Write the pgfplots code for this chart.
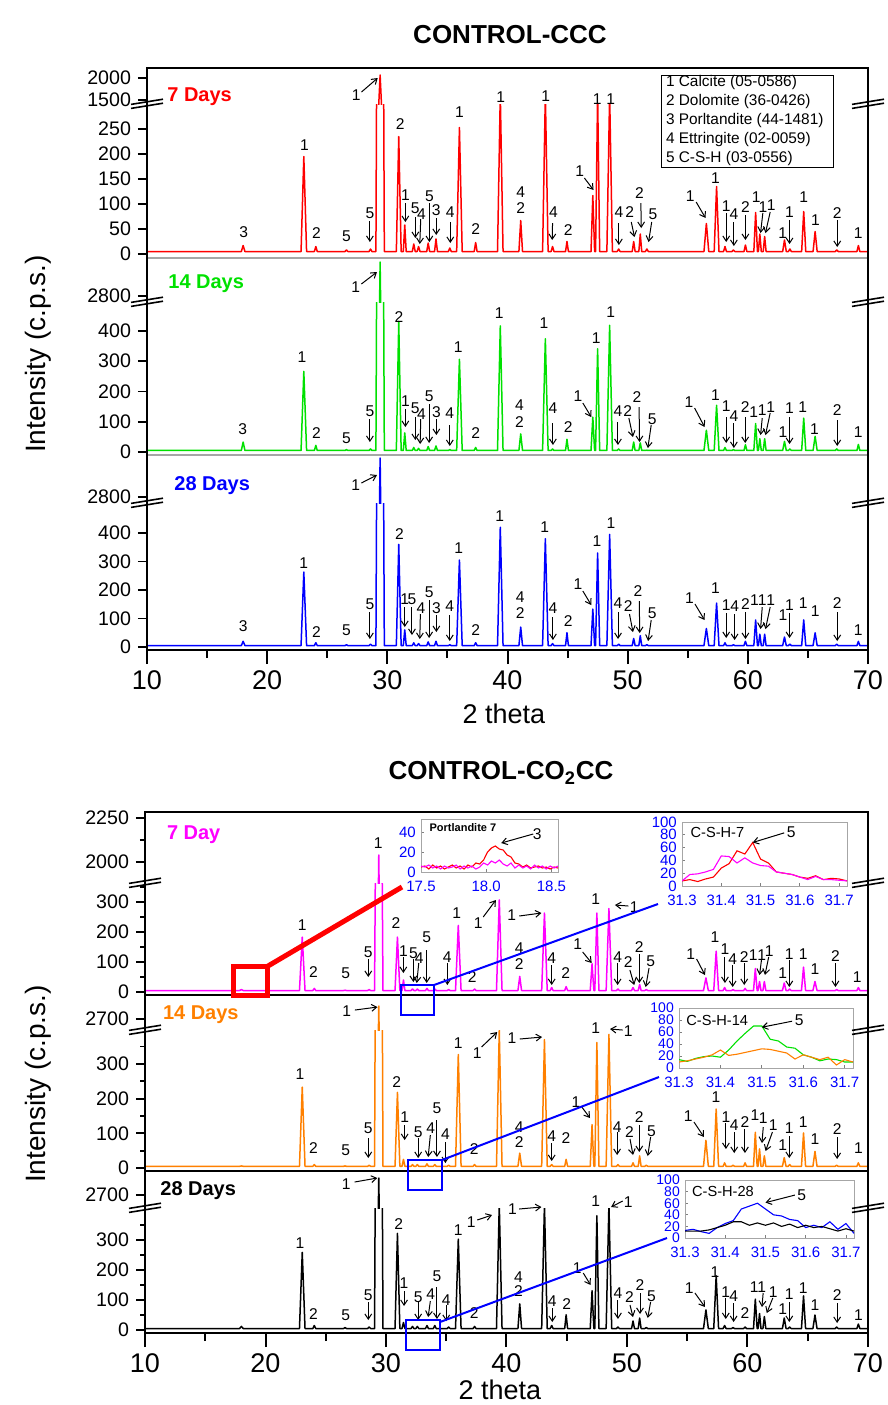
\documentclass[border=0pt]{standalone}
\usepackage{pgfplots}
\pgfplotsset{compat=1.18}
\usepackage{pgfplotstable}
\usepackage{fontspec}
\setmainfont{Liberation Sans}
\usetikzlibrary{arrows.meta}

\definecolor{cgreen}{RGB}{0,225,0}
\definecolor{corange}{RGB}{255,128,0}
\definecolor{cmag}{RGB}{255,0,255}
\definecolor{cblue}{RGB}{0,0,255}
\definecolor{cred}{RGB}{255,0,0}

% XRD patterns: 2theta, top panel 7/14/28 d, bottom panel 7/14/28 d
\pgfplotstableread{
x t7 t14 t28 b7 b14 b28
10 5 5 5 5 5 5
17.85 5 5 5 5 5 5
18.0 17 33 20 8 6 12
18.15 5 5 5 5 5 5
22.82 5 5 5 5 5 5
23.05 195 266 263 183 233 259
23.28 5 5 5 5 5 5
23.93 5 5 5 5 5 5
24.05 15 22 15 12 10 15
24.17 5 5 5 5 5 5
26.48 5 5 5 5 5 5
26.6 8 8 8 6 6 8
26.72 5 5 5 5 5 5
28.48 5 5 5 5 5 5
28.6 10 10 10 8 8 10
28.72 5 5 5 5 5 5
29.05 5 5 5 5 5 5
29.4 2070 3140 3190 2040 2830 2870
29.75 5 5 5 5 5 5
30.75 5 5 5 5 5 5
30.95 235 431 360 183 218 322
31.15 5 5 5 5 5 5
31.33 5 5 5 5 5 5
31.45 58 63 60 40 25 25
31.57 5 5 5 5 5 5
32.08 5 5 5 5 5 5
32.2 20 15 15 10 10 12
32.32 5 5 5 5 5 5
32.48 5 5 5 5 5 5
32.6 15 12 12 10 10 12
32.72 5 5 5 5 5 5
33.28 5 5 5 5 5 5
33.4 22 18 18 12 12 15
33.52 5 5 5 5 5 5
33.93 5 5 5 5 5 5
34.05 30 20 20 10 10 15
34.17 5 5 5 5 5 5
35.08 5 5 5 5 5 5
35.2 12 8 8 8 8 10
35.32 5 5 5 5 5 5
35.77 5 5 5 5 5 5
36.0 253 306 305 222 327 303
36.23 5 5 5 5 5 5
37.23 5 5 5 5 5 5
37.35 23 15 15 10 10 12
37.47 5 5 5 5 5 5
39.17 5 5 5 5 5 5
39.4 320 416 420 307 397 420
39.63 5 5 5 5 5 5
40.95 5 5 5 5 5 5
41.1 67 60 70 52 43 87
41.25 5 5 5 5 5 5
42.92 5 5 5 5 5 5
43.15 320 374 380 263 370 420
43.38 5 5 5 5 5 5
43.63 5 5 5 5 5 5
43.75 15 10 12 15 10 15
43.87 5 5 5 5 5 5
44.83 5 5 5 5 5 5
44.95 25 42 50 18 25 51
45.07 5 5 5 5 5 5
46.95 5 5 5 5 5 5
47.1 117 115 133 94 125 131
47.25 5 5 5 5 5 5
47.33 5 5 5 5 5 5
47.5 320 341 330 263 362 381
47.67 5 5 5 5 5 5
48.27 5 5 5 5 5 5
48.5 320 418 395 278 385 420
48.73 5 5 5 5 5 5
49.13 5 5 5 5 5 5
49.25 10 10 10 10 10 10
49.37 5 5 5 5 5 5
50.38 5 5 5 5 5 5
50.5 25 33 30 15 15 30
50.62 5 5 5 5 5 5
50.93 5 5 5 5 5 5
51.05 40 30 40 25 35 40
51.17 5 5 5 5 5 5
51.48 5 5 5 5 5 5
51.6 10 6 8 8 8 8
51.72 5 5 5 5 5 5
56.35 5 5 5 5 5 5
56.55 61 72 65 47 80 67
56.75 5 5 5 5 5 5
57.2 5 5 5 5 5 5
57.4 135 154 154 136 170 181
57.6 5 5 5 5 5 5
57.98 5 5 5 5 5 5
58.1 15 15 15 15 15 15
58.22 5 5 5 5 5 5
58.68 5 5 5 5 5 5
58.8 8 8 8 8 8 8
58.92 5 5 5 5 5 5
59.68 5 5 5 5 5 5
59.8 18 24 20 12 15 10
59.92 5 5 5 5 5 5
60.5 5 5 5 5 5 5
60.65 83 94 95 78 103 103
60.8 5 5 5 5 5 5
60.88 5 5 5 5 5 5
61.0 40 44 45 35 55 55
61.12 5 5 5 5 5 5
61.28 5 5 5 5 5 5
61.4 35 44 45 35 35 45
61.52 5 5 5 5 5 5
62.9 5 5 5 5 5 5
63.05 28 35 35 30 30 40
63.2 5 5 5 5 5 5
63.38 5 5 5 5 5 5
63.5 10 10 10 10 10 10
63.62 5 5 5 5 5 5
64.48 5 5 5 5 5 5
64.65 85 112 95 83 101 114
64.82 5 5 5 5 5 5
65.43 5 5 5 5 5 5
65.6 45 52 50 35 48 50
65.77 5 5 5 5 5 5
67.28 5 5 5 5 5 5
67.4 8 10 10 8 8 10
67.52 5 5 5 5 5 5
69.08 5 5 5 5 5 5
69.2 17 25 20 15 15 20
69.32 5 5 5 5 5 5
70 5 5 5 5 5 5
}\xrd

\pgfplotstableread{
x r m
17.50 5 6
17.53 6 5
17.56 3 7
17.59 7 4
17.62 4 6
17.65 6 3
17.68 3 6
17.71 5 4
17.74 7 5
17.77 4 7
17.80 6 3
17.83 3 6
17.86 7 4
17.89 5 6
17.92 9 3
17.95 8 5
17.98 12 9
18.01 20 7
18.04 24 11
18.07 26 9
18.10 23 12
18.13 22 8
18.16 17 6
18.19 15 9
18.22 9 4
18.25 8 7
18.28 5 4
18.31 7 6
18.34 4 3
18.37 5 7
18.40 6 4
18.43 4 6
18.46 5 3
18.49 3 6
18.52 5 4
18.55 4 6
}\portl

\pgfplotstableread{
x r7 m7 g14 o14 b28 k28
31.30 8 8 14 10 13 12
31.32 10 18 11 12 15 12
31.34 7 19 16 15 11 12
31.36 11 22 19 18 8 14
31.38 14 26 20 22 18 18
31.40 28 47 18 30 25 22
31.42 35 46 30 21 30 28
31.44 55 36 45 23 50 28
31.46 50 44 58 26 55 22
31.48 68 36 70 29 60 26
31.50 42 32 70 32 50 22
31.52 36 31 48 31 40 26
31.54 22 22 45 28 38 20
31.56 20 20 35 25 32 24
31.58 18 18 33 15 30 18
31.60 14 14 22 22 18 22
31.62 12 10 18 18 22 18
31.64 16 15 12 14 18 20
31.66 10 10 15 18 28 16
31.68 12 10 14 5 15 12
31.70 11 9 10 14 25 16
31.72 8 8 10 10 8 12
}\csh

\tikzset{
  lab/.style={font=\fontsize{7.8}{9}\selectfont, inner sep=0pt},
  arr/.style={-{Straight Barb[length=2.6pt,width=3.4pt]}, line width=0.5pt},
  brk/.style={line width=0.8pt, black},
}
\newcommand{\PT}[3]{\node[lab] at ([yshift=#2*0.5pt]axis cs:#1,0) {#3};}
\newcommand{\PV}[5]{\node[lab] at ([yshift=#2*0.5pt]axis cs:#1,0) {#5};
  \draw[arr] ([yshift=#3*0.5pt]axis cs:#1,0) -- ([yshift=#4*0.5pt]axis cs:#1,0);}
\newcommand{\PD}[7]{\node[lab] at ([yshift=#2*0.5pt]axis cs:#1,0) {#7};
  \draw[arr] ([yshift=#4*0.5pt]axis cs:#3,0) -- ([yshift=#6*0.5pt]axis cs:#5,0);}
\newcommand{\brk}[2]{\draw[brk] (#1-8pt,#2-2.2pt) -- (#1+8pt,#2+0.4pt);
  \draw[brk] (#1-8pt,#2-0.2pt) -- (#1+8pt,#2+2.4pt);}

\pgfplotsset{
  mainax/.style={scale only axis, xmin=10, xmax=70, clip mode=individual,
    axis line style={draw=none}, tick align=outside, ytick pos=left, xtick=\empty,
    major tick length=4.5pt, minor tick length=2.5pt,
    tick style={black, line width=0.9pt},
    yticklabel style={font=\fontsize{9.8}{10}\selectfont},
    /pgf/number format/assume math mode=true,
    /pgf/number format/set thousands separator={},
    every axis plot/.append style={line width=0.75pt, line join=round},
  },
  ptop/.style={mainax, width=360.5pt, at={(73.5pt,#1)}, anchor=south west},
  pbot/.style={mainax, width=361.5pt, at={(72.5pt,#1)}, anchor=south west},
  xax/.style={scale only axis, height=10pt, anchor=south west,
    xmin=10, xmax=70, ymin=0, ymax=1, axis line style={draw=none}, ytick=\empty,
    xtick={10,20,...,70}, minor xtick={15,25,...,65}, xtick pos=bottom, tick align=outside,
    major tick length=7pt, minor tick length=4pt, tick style={black, line width=1pt},
    xticklabel style={font=\fontsize{13.5}{14}\selectfont},
    /pgf/number format/assume math mode=true},
  inset/.style={scale only axis, anchor=south west, clip mode=individual,
    axis line style={draw=gray!70, line width=0.5pt},
    axis background/.style={fill=white},
    tick align=inside, xtick pos=bottom, ytick pos=left,
    major tick length=1.5pt, tick style={gray, line width=0.4pt},
    tick label style={text=blue, font=\fontsize{7.5}{8}\selectfont},
    xticklabel style={yshift=-1pt, /pgf/number format/fixed, /pgf/number format/fixed zerofill, /pgf/number format/precision=1},
    yticklabel style={inner sep=0.4pt, xshift=-2pt},
    /pgf/number format/assume math mode=true,
    every axis plot/.append style={line width=0.55pt},
  },
}

\begin{document}
\begin{tikzpicture}
\useasboundingbox (0,0) rectangle (444pt,-702.5pt);

%================ TOP FIGURE =================
% ---- 7 days
\begin{axis}[ptop=-129pt, height=77pt, ymin=-8, ymax=300, ytick={0,50,...,250}]
\addplot[cred] table[x=x,y=t7]{\xrd};
\PT{18.05}{22}{3}
\PT{23.1}{109}{1}
\PT{24.1}{21}{2}
\PT{26.6}{18}{5}
\PV{28.55}{41}{33}{12}{5}
\PD{27.4}{159}{27.85}{162}{29.2}{176}{1}
\PT{31.08}{130}{2}
\PV{31.5}{59}{51}{32}{1}
\PV{32.33}{46}{37}{16}{5}
\PD{32.85}{40}{32.78}{35}{32.7}{10}{4}
\PV{33.5}{58}{51}{12}{5}
\PV{34.07}{44}{36}{19}{3}
\PV{35.24}{42}{32}{11}{4}
\PT{36.0}{142}{1}
\PT{37.35}{25}{2}
\PT{39.43}{157}{1}
\PT{41.09}{62}{4}
\PT{41.09}{46}{2}
\PT{43.17}{158}{1}
\PD{43.83}{42}{43.75}{31}{43.72}{14}{4}
\PT{45.05}{24}{2}
\PD{46.0}{83}{46.4}{76}{47.16}{64}{1}
\PT{47.47}{155}{1}
\PT{48.58}{155}{1}
\PV{49.27}{42}{31}{9}{4}
\PD{50.16}{42}{50.3}{32}{50.57}{17}{2}
\PD{50.99}{61}{51.1}{51}{51.13}{26}{2}
\PD{52.1}{40}{52.0}{32}{51.74}{12}{5}
\PD{55.2}{58}{55.7}{52}{56.48}{36}{1}
\PT{57.3}{76}{1}
\PV{58.2}{48}{41}{12}{1}
\PV{58.84}{40}{32}{8}{4}
\PV{59.8}{47}{39}{14}{2}
\PT{60.7}{57}{1}
\PD{61.25}{47}{61.25}{41}{61.06}{21}{1}
\PD{61.95}{49}{61.86}{42}{61.47}{21}{1}
\PT{62.9}{21}{1}
\PV{63.47}{42}{34}{10}{1}
\PT{64.66}{57}{1}
\PT{65.63}{34}{1}
\PV{67.44}{41}{34}{7}{2}
\PT{69.19}{21}{1}
\end{axis}
\begin{axis}[ptop=-52pt, height=18pt, ymin=1409, ymax=2227, ytick={1500,2000}]
\addplot[cred] table[x=x,y=t7]{\xrd};
\end{axis}

% ---- 14 days
\begin{axis}[ptop=-227.5pt, height=76.5pt, ymin=-9.9, ymax=495, ytick={0,100,...,400}]
\addplot[cgreen] table[x=x,y=t14]{\xrd};
\PT{17.96}{23}{3}
\PT{22.9}{95}{1}
\PT{24.1}{19}{2}
\PT{26.6}{14}{5}
\PV{28.55}{41}{33}{10}{5}
\PD{27.37}{165}{27.84}{168}{29.14}{180}{1}
\PT{30.97}{135}{2}
\PV{31.5}{51}{43}{25}{1}
\PV{32.33}{44}{35}{12}{5}
\PD{32.85}{38}{32.78}{33}{32.73}{8}{4}
\PV{33.48}{56}{48}{9}{5}
\PV{34.08}{40}{33}{17}{3}
\PV{35.2}{39}{27}{6}{4}
\PT{35.9}{105}{1}
\PT{37.35}{19}{2}
\PT{39.3}{139}{1}
\PT{41.0}{47}{4}
\PT{41.0}{30}{2}
\PT{43.03}{129}{1}
\PV{43.78}{44}{29}{7}{4}
\PT{45.06}{25}{2}
\PD{45.86}{56}{46.27}{49}{46.97}{35}{1}
\PT{47.39}{114}{1}
\PT{48.58}{140}{1}
\PV{49.19}{41}{30}{7}{4}
\PD{50.0}{41}{50.1}{34}{50.44}{15}{2}
\PD{50.77}{55}{50.95}{45}{50.99}{10}{2}
\PD{52.05}{33}{51.96}{27}{51.68}{4}{5}
\PD{55.1}{50}{55.57}{44}{56.4}{25}{1}
\PT{57.3}{57}{1}
\PV{58.2}{46}{35}{9}{1}
\PV{58.84}{36}{29}{4}{4}
\PV{59.78}{45}{35}{9}{2}
\PT{60.48}{40}{1}
\PD{61.2}{42}{61.2}{34}{61.06}{17}{1}
\PD{61.9}{45}{61.86}{39}{61.47}{17}{1}
\PT{62.93}{20}{1}
\PV{63.47}{44}{35}{8}{1}
\PT{64.57}{45}{1}
\PT{65.55}{23}{1}
\PV{67.44}{42}{32}{6}{2}
\PT{69.19}{20}{1}
\end{axis}
\begin{axis}[ptop=-151pt, height=22pt, ymin=2740, ymax=3180, ytick={2800}]
\addplot[cgreen] table[x=x,y=t14]{\xrd};
\end{axis}

% ---- 28 days
\begin{axis}[ptop=-325pt, height=73.5pt, ymin=-10.5, ymax=505, ytick={0,100,...,400}]
\addplot[cblue] table[x=x,y=t28]{\xrd};
\PT{18.0}{21}{3}
\PT{23.05}{84}{1}
\PT{24.1}{15}{2}
\PT{26.6}{17}{5}
\PV{28.55}{43}{35}{8}{5}
\PD{27.37}{162}{27.84}{164}{29.14}{172}{1}
\PT{31.0}{113}{2}
\PV{31.45}{48}{40}{20}{1}
\PV{32.05}{48}{40}{12}{5}
\PD{32.8}{39}{32.75}{33}{32.7}{8}{4}
\PV{33.48}{55}{47}{9}{5}
\PV{34.08}{39}{32}{15}{3}
\PV{35.2}{41}{32}{6}{4}
\PT{35.95}{99}{1}
\PT{37.35}{17}{2}
\PT{39.35}{131}{1}
\PT{41.05}{50}{4}
\PT{41.05}{34}{2}
\PT{43.1}{120}{1}
\PV{43.78}{39}{30}{7}{4}
\PT{45.06}{26}{2}
\PD{45.86}{63}{46.27}{56}{46.97}{42}{1}
\PT{47.45}{106}{1}
\PT{48.6}{124}{1}
\PV{49.2}{44}{35}{8}{4}
\PD{50.05}{41}{50.15}{33}{50.44}{15}{2}
\PD{50.85}{56}{50.97}{46}{51.0}{14}{2}
\PD{52.05}{34}{51.96}{27}{51.7}{6}{5}
\PD{55.15}{49}{55.6}{43}{56.4}{27}{1}
\PT{57.3}{59}{1}
\PV{58.2}{42}{34}{9}{1}
\PV{58.9}{41}{33}{7}{4}
\PV{59.8}{43}{35}{8}{2}
\PT{60.55}{47}{1}
\PD{61.2}{47}{61.2}{40}{61.06}{18}{1}
\PD{61.9}{47}{61.86}{40}{61.47}{18}{1}
\PT{62.93}{32}{1}
\PV{63.47}{42}{34}{9}{1}
\PT{64.6}{44}{1}
\PT{65.6}{36}{1}
\PV{67.44}{44}{35}{6}{2}
\PT{69.19}{17}{1}
\end{axis}
\begin{axis}[ptop=-251.5pt, height=24pt, ymin=2740, ymax=3220, ytick={2800}]
\addplot[cblue] table[x=x,y=t28]{\xrd};
\end{axis}
\begin{axis}[xax, width=360.5pt, at={(73.5pt,-325pt)}]
\end{axis}

%================ BOTTOM FIGURE =================
% ---- 7 day
\begin{axis}[pbot=-497.5pt, height=56pt, ymin=-10, ymax=363, ytick={0,100,200,300}, minor ytick={50,150,250,350}]
\addplot[cmag] table[x=x,y=b7]{\xrd};
\PT{23.05}{67}{1}
\PT{23.97}{20}{2}
\PT{26.65}{19}{5}
\PV{28.53}{40}{33}{15}{5}
\PT{29.36}{149}{1}
\PT{30.83}{69}{2}
\PV{31.44}{41}{35}{19}{1}
\PV{32.27}{39}{33}{10}{5}
\PD{32.76}{34}{32.72}{29}{32.55}{9}{4}
\PV{33.38}{55}{42}{9}{5}
\PV{35.09}{35}{29}{7}{4}
\PT{35.87}{79}{1}
\PT{37.16}{15}{2}
\PD{37.66}{69}{38.07}{75}{39.12}{92}{1}
\PD{40.43}{77}{41.06}{76}{42.9}{79}{1}
\PT{41.06}{44}{4}
\PT{41.06}{28}{2}
\PV{43.75}{34}{27}{7}{4}
\PT{44.91}{19}{2}
\PD{45.9}{48}{46.32}{40}{47.07}{29}{1}
\PT{47.4}{93}{1}
\PD{50.6}{85}{50.11}{86}{49.0}{87}{1}
\PV{49.22}{35}{29}{7}{4}
\PD{50.1}{30}{50.24}{22}{50.6}{7}{2}
\PV{51.02}{45}{38}{9}{2}
\PD{51.97}{31}{51.83}{24}{51.55}{5}{5}
\PD{55.29}{38}{55.78}{33}{56.47}{17}{1}
\PT{57.3}{55}{1}
\PV{58.13}{43}{35}{9}{1}
\PV{58.77}{33}{27}{5}{4}
\PV{59.73}{35}{29}{7}{2}
\PT{60.48}{37}{1}
\PD{61.18}{37}{61.16}{32}{61.0}{17}{1}
\PD{61.81}{41}{61.76}{35}{61.45}{17}{1}
\PT{62.92}{19}{1}
\PV{63.47}{38}{32}{5}{1}
\PT{64.63}{38}{1}
\PT{65.6}{23}{1}
\PV{67.3}{36}{29}{5}{2}
\PT{69.11}{15}{1}
\end{axis}
\begin{axis}[pbot=-441.5pt, height=35.5pt, ymin=1881, ymax=2284, ytick={2000,2250}, minor ytick={2125}]
\addplot[cmag] table[x=x,y=b7]{\xrd};
\end{axis}

% ---- 14 days
\begin{axis}[pbot=-585.5pt, height=70.5pt, ymin=-8.6, ymax=397.7, ytick={0,100,200,300}, minor ytick={50,150,250,350}]
\addplot[corange] table[x=x,y=b14]{\xrd};
\PD{26.73}{157}{27.42}{158}{29.3}{161}{1}
\PT{22.86}{94}{1}
\PT{23.97}{20}{2}
\PT{26.65}{18}{5}
\PV{28.53}{40}{30}{10}{5}
\PT{30.89}{86}{2}
\PV{31.55}{51}{43}{28}{1}
\PV{32.67}{36}{30}{10}{5}
\PD{33.72}{40}{33.68}{33}{33.5}{11}{4}
\PV{34.23}{60}{48}{11}{5}
\PV{34.93}{34}{26}{5}{4}
\PT{36.0}{125}{1}
\PT{37.32}{19}{2}
\PD{37.57}{115}{37.93}{121}{39.23}{136}{1}
\PD{40.46}{130}{41.1}{129}{42.95}{131}{1}
\PT{41.06}{41}{4}
\PT{41.06}{26}{2}
\PV{43.75}{32}{25}{7}{4}
\PT{44.94}{30}{2}
\PD{45.77}{66}{46.25}{61}{46.93}{50}{1}
\PT{47.41}{140}{1}
\PD{50.11}{137}{49.64}{138}{48.59}{139}{1}
\PV{49.18}{41}{36}{13}{4}
\PD{50.2}{36}{50.25}{29}{50.5}{13}{2}
\PV{51.02}{51}{43}{16}{2}
\PD{52.03}{37}{51.96}{31}{51.72}{12}{5}
\PD{55.09}{52}{55.56}{46}{56.39}{31}{1}
\PT{57.38}{71}{1}
\PV{58.21}{51}{45}{19}{1}
\PV{58.9}{43}{36}{15}{4}
\PV{59.79}{46}{39}{15}{2}
\PT{60.62}{53}{1}
\PD{61.31}{50}{61.31}{41}{61.2}{25}{1}
\PD{62.14}{43}{62.07}{36}{61.5}{17}{1}
\PT{62.92}{23}{1}
\PV{63.47}{40}{32}{10}{1}
\PT{64.63}{46}{1}
\PT{65.6}{29}{1}
\PV{67.44}{39}{31}{9}{2}
\PT{69.2}{20}{1}
\end{axis}
\begin{axis}[pbot=-515pt, height=17.5pt, ymin=2590, ymax=2940, ytick={2700}]
\addplot[corange] table[x=x,y=b14]{\xrd};
\end{axis}

% ---- 28 days
\begin{axis}[pbot=-666.5pt, height=62.5pt, ymin=-10, ymax=406.7, ytick={0,100,200,300}, minor ytick={50,150,250,350}]
\addplot[black] table[x=x,y=b28]{\xrd};
\PD{26.7}{146}{27.4}{148}{29.28}{152}{1}
\PT{22.86}{87}{1}
\PT{23.97}{16}{2}
\PT{26.65}{15}{5}
\PV{28.53}{35}{28}{10}{5}
\PT{31.05}{106}{2}
\PV{31.5}{47}{39}{24}{1}
\PV{32.67}{33}{28}{10}{5}
\PD{33.72}{36}{33.68}{29}{33.5}{13}{4}
\PV{34.23}{54}{43}{11}{5}
\PV{35.0}{30}{25}{9}{4}
\PT{36.0}{100}{1}
\PT{37.32}{17}{2}
\PD{37.07}{108}{37.57}{110}{38.8}{115}{1}
\PD{40.5}{121}{41.05}{121}{42.9}{123}{1}
\PT{41.0}{53}{4}
\PT{41.0}{39}{2}
\PV{43.8}{29}{22}{8}{4}
\PT{44.99}{26}{2}
\PD{45.87}{62}{46.37}{57}{46.98}{45}{1}
\PT{47.41}{129}{1}
\PD{50.11}{128}{49.64}{129}{48.68}{123}{1}
\PV{49.25}{37}{30}{11}{4}
\PD{50.2}{33}{50.25}{25}{50.5}{13}{2}
\PV{51.08}{45}{37}{16}{2}
\PD{52.03}{34}{51.96}{28}{51.72}{12}{5}
\PD{55.17}{42}{55.64}{37}{56.47}{23}{1}
\PT{57.3}{58}{1}
\PV{58.2}{38}{32}{11}{1}
\PV{58.85}{34}{27}{8}{4}
\PT{59.78}{17}{2}
\PT{60.86}{43}{11}
\PD{61.3}{43}{61.3}{37}{61.2}{23}{}
\PD{62.14}{38}{62.1}{32}{61.6}{17}{1}
\PT{62.92}{21}{1}
\PV{63.47}{36}{28}{8}{1}
\PT{64.63}{42}{1}
\PT{65.6}{25}{1}
\PV{67.44}{35}{27}{7}{2}
\PT{69.2}{15}{1}
\end{axis}
\begin{axis}[pbot=-604pt, height=18pt, ymin=2570, ymax=2930, ytick={2700}]
\addplot[black] table[x=x,y=b28]{\xrd};
\end{axis}
\begin{axis}[xax, width=361.5pt, at={(72.5pt,-666.5pt)}]
\end{axis}

%================ INSETS =================
\begin{axis}[inset, at={(210.5pt,-436pt)}, width=68.5pt, height=26.5pt,
  xmin=17.5, xmax=18.55, ymin=0, ymax=53, xtick={17.5,18.0,18.5}, ytick={0,20,40}]
\addplot[cred] table[x=x,y=r]{\portl};
\addplot[cmag] table[x=x,y=m]{\portl};
\node[anchor=west, font=\bfseries\fontsize{5.5}{6}\selectfont, inner sep=0pt] at (rel axis cs:0.06,0.84) {Portlandite 7};
\node[lab, font=\fontsize{7.8}{8}\selectfont] at (axis cs:18.39,38) {3};
\draw[arr] (axis cs:18.36,38) -- (axis cs:18.115,29);
\end{axis}

\begin{axis}[inset, at={(341pt,-443pt)}, width=82.5pt, height=32pt,
  xmin=31.3, xmax=31.72, ymin=0, ymax=100, xtick={31.3,31.4,...,31.7}, ytick={0,20,...,100}]
\addplot[cred] table[x=x,y=r7]{\csh};
\addplot[cmag] table[x=x,y=m7]{\csh};
\node[anchor=west, font=\fontsize{7.3}{8}\selectfont, inner sep=0pt] at (rel axis cs:0.05,0.83) {C-S-H-7};
\node[lab, font=\fontsize{7.8}{8}\selectfont] at (axis cs:31.578,84) {5};
\draw[arr] (axis cs:31.56,83) -- (axis cs:31.48,68);
\end{axis}

\begin{axis}[inset, at={(339.5pt,-534pt)}, width=87pt, height=30pt,
  xmin=31.3, xmax=31.72, ymin=0, ymax=100, xtick={31.3,31.4,...,31.7}, ytick={0,20,...,100},
  yticklabel style={font=\fontsize{7}{7}\selectfont}]
\addplot[cgreen] table[x=x,y=g14]{\csh};
\addplot[corange] table[x=x,y=o14]{\csh};
\node[anchor=west, font=\fontsize{7.3}{8}\selectfont, inner sep=0pt] at (rel axis cs:0.04,0.8) {C-S-H-14};
\node[lab, font=\fontsize{7.8}{8}\selectfont] at (axis cs:31.59,79) {5};
\draw[arr] (axis cs:31.573,78) -- (axis cs:31.5,68);
\end{axis}

\begin{axis}[inset, at={(342.5pt,-619pt)}, width=84.5pt, height=29pt,
  xmin=31.3, xmax=31.72, ymin=0, ymax=100, xtick={31.3,31.4,...,31.7}, ytick={0,20,...,100},
  yticklabel style={font=\fontsize{7}{7}\selectfont}]
\addplot[cblue] table[x=x,y=b28]{\csh};
\addplot[black] table[x=x,y=k28]{\csh};
\node[anchor=west, font=\fontsize{7.3}{8}\selectfont, inner sep=0pt] at (rel axis cs:0.04,0.8) {C-S-H-28};
\node[lab, font=\fontsize{7.8}{8}\selectfont] at (axis cs:31.59,73) {5};
\draw[arr] (axis cs:31.573,74) -- (axis cs:31.5,61);
\end{axis}

%================ FRAMES, BREAKS, TEXT =================
% top figure frame
\draw[black, line width=0.8pt] (73.5pt,-34pt) -- (434pt,-34pt);
\draw[gray!70, line width=0.8pt] (73.5pt,-129pt) -- (434pt,-129pt);
\draw[gray!70, line width=0.8pt] (73.5pt,-227.5pt) -- (434pt,-227.5pt);
\draw[black, line width=1.3pt] (73.5pt,-325pt) -- (434pt,-325pt);
\draw[black, line width=1.3pt] (73.5pt,-33.5pt) -- (73.5pt,-325.6pt);
\draw[black, line width=1.3pt] (434pt,-33.5pt) -- (434pt,-325.6pt);
\brk{73.5pt}{-52pt}\brk{434pt}{-52pt}
\brk{73.5pt}{-151pt}\brk{434pt}{-151pt}
\brk{73.5pt}{-251.5pt}\brk{434pt}{-251.5pt}

% bottom figure frame
\draw[black, line width=1pt] (72.5pt,-406pt) -- (434pt,-406pt);
\draw[black, line width=1.4pt] (72.5pt,-497.5pt) -- (434pt,-497.5pt);
\draw[black, line width=1.4pt] (72.5pt,-585.5pt) -- (434pt,-585.5pt);
\draw[black, line width=1.3pt] (72.5pt,-666.5pt) -- (434pt,-666.5pt);
\draw[black, line width=1.3pt] (72.5pt,-405.5pt) -- (72.5pt,-667.1pt);
\draw[black, line width=1.3pt] (434pt,-405.5pt) -- (434pt,-667.1pt);
\brk{72.5pt}{-441.5pt}\brk{434pt}{-441.5pt}
\brk{72.5pt}{-515pt}\brk{434pt}{-515pt}
\brk{72.5pt}{-604pt}\brk{434pt}{-604pt}

% legend box
\draw[black, line width=0.5pt] (330.5pt,-37.5pt) rectangle (416.5pt,-83.5pt);
\begin{scope}[every node/.style={anchor=west, inner sep=0pt, font=\fontsize{7.7}{9}\selectfont}]
\node at (332.8pt,-41.3pt) {1 Calcite (05-0586)};
\node at (332.8pt,-50.8pt) {2 Dolomite (36-0426)};
\node at (332.8pt,-60.5pt) {3 Porltandite (44-1481)};
\node at (332.8pt,-70pt) {4 Ettringite (02-0059)};
\node at (332.8pt,-79.5pt) {5 C-S-H (03-0556)};
\end{scope}

% panel labels
\begin{scope}[every node/.style={anchor=west, inner sep=0pt, font=\bfseries\fontsize{10}{12}\selectfont}]
\node[text=cred] at (83.5pt,-48.3pt) {7 Days};
\node[text=cgreen] at (84pt,-141.7pt) {14 Days};
\node[text=cblue] at (87pt,-243pt) {28 Days};
\node[text=cmag] at (83.3pt,-417.5pt) {7 Day};
\node[text=corange] at (81.3pt,-507.5pt) {14 Days};
\node[text=black] at (80pt,-595.3pt) {28 Days};
\end{scope}

% titles and axis labels
\node[font=\bfseries\fontsize{13}{15}\selectfont] at (255pt,-17.5pt) {CONTROL-CCC};
\node[font=\bfseries\fontsize{13}{15}\selectfont] at (250.5pt,-386.5pt) {CONTROL-CO\textsubscript{2}CC};
\node[font=\fontsize{13.5}{15}\selectfont] at (252pt,-357pt) {2 theta};
\node[font=\fontsize{13.5}{15}\selectfont] at (250pt,-695pt) {2 theta};
\node[rotate=90, font=\fontsize{14}{16}\selectfont] at (19pt,-177pt) {Intensity (c.p.s.)};
\node[rotate=90, font=\fontsize{14}{16}\selectfont] at (19pt,-542pt) {Intensity (c.p.s.)};

% zoom markers
\draw[cred, line width=2.5pt] (116.5pt,-483pt) rectangle (133.5pt,-497.5pt);
\draw[cred, line width=2.5pt] (134pt,-483pt) -- (201pt,-443.5pt);
\draw[cblue, line width=1pt] (200.5pt,-492.5pt) rectangle (217pt,-507.5pt);
\draw[cblue, line width=1pt] (217pt,-492.5pt) -- (329pt,-452pt);
\draw[cblue, line width=1pt] (204pt,-580pt) rectangle (221pt,-595pt);
\draw[cblue, line width=1pt] (221pt,-580pt) -- (329.5pt,-538.5pt);
\draw[cblue, line width=1pt] (203pt,-660pt) rectangle (220pt,-675pt);
\draw[cblue, line width=1pt] (220pt,-661pt) -- (333.5pt,-619pt);
\end{tikzpicture}
\end{document}
